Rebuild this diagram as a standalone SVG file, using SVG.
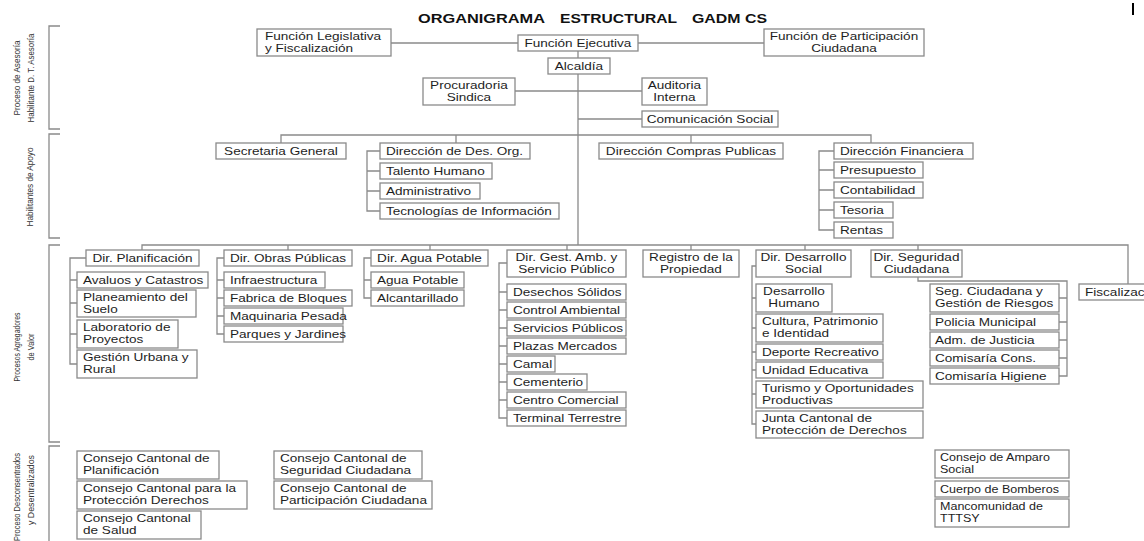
<svg xmlns="http://www.w3.org/2000/svg" width="1144" height="541" viewBox="0 0 1144 541">
<style>
.b{fill:#fff;stroke:#8a8a8a;stroke-width:1.3}
.t{font-family:"Liberation Sans",Arial,sans-serif;font-size:11.6px;fill:#1e1e1e}
.c{text-anchor:middle;transform-box:fill-box;transform-origin:center;transform:scaleX(1.17)}
.l{transform-box:fill-box;transform-origin:left center;transform:scaleX(1.17)}
.l2{transform-box:fill-box;transform-origin:left center;transform:scaleX(1.08)}
.ttl{font-family:"Liberation Sans",Arial,sans-serif;font-size:13px;font-weight:bold;fill:#111}
.lab{font-family:"Liberation Sans Narrow","Liberation Sans",Arial,sans-serif;font-size:9.5px;fill:#333;text-anchor:middle}
.cn{fill:none;stroke:#8a8a8a;stroke-width:1.3}
.br{fill:none;stroke:#8a8a8a;stroke-width:1.3}
</style>
<rect width="1144" height="541" fill="#fff"/>
<g id="title">
<text class="ttl" x="418" y="22.5" textLength="127" lengthAdjust="spacingAndGlyphs">ORGANIGRAMA</text>
<text class="ttl" x="560" y="22.5" textLength="117" lengthAdjust="spacingAndGlyphs">ESTRUCTURAL</text>
<text class="ttl" x="692" y="22.5" textLength="75" lengthAdjust="spacingAndGlyphs">GADM CS</text>
<rect x="1132" y="3" width="2" height="12" fill="#000"/>
</g>
<g id="sections">
<path class="br" d="M60,26 H49 V129 H60"/>
<path class="br" d="M60,134 H49 V238 H60"/>
<path class="br" d="M60,245 H49 V442 H60"/>
<path class="br" d="M60,446 H49 V545"/>
<text class="lab" transform="translate(20,78) rotate(-90)" textLength="75" lengthAdjust="spacingAndGlyphs">Proceso de Asesoría</text>
<text class="lab" transform="translate(34,78) rotate(-90)" textLength="89" lengthAdjust="spacingAndGlyphs">Habilitante D. T. Asesoría</text>
<text class="lab" transform="translate(33,187) rotate(-90)" textLength="79" lengthAdjust="spacingAndGlyphs">Habilitantes de Apoyo</text>
<text class="lab" transform="translate(20,347) rotate(-90)" textLength="69" lengthAdjust="spacingAndGlyphs">Procesos Agregadores</text>
<text class="lab" transform="translate(34,347) rotate(-90)" textLength="27" lengthAdjust="spacingAndGlyphs">de Valor</text>
<text class="lab" transform="translate(20,497) rotate(-90)" textLength="88" lengthAdjust="spacingAndGlyphs">Proceso Desconsentrados</text>
<text class="lab" transform="translate(34,490) rotate(-90)" textLength="70" lengthAdjust="spacingAndGlyphs">y Desentralizados</text>
</g>
<g id="connectors">
<path class="cn" d="M391,43 H518 M638,43 H764 M578,51 V58 M578,74 V245 M515,91 H642 M578,119 H642"/>
<path class="cn" d="M281,143 V135 H871 V143 M456,135 V143 M691,135 V143"/>
<path class="cn" d="M380,151 H367 V211 H380 M367,171 H380 M367,191 H380"/>
<path class="cn" d="M834,151 H819 V230 H834 M819,170 H834 M819,190 H834 M819,210 H834"/>
<path class="cn" d="M142,250 V245 H1128 V284 M288,245 V250 M430,245 V250 M567,245 V250 M691,245 V250 M805,245 V250 M918,245 V250"/>
<path class="cn" d="M86,258 H70 V364 H77 M70,280 H77 M70,303 H77 M70,334 H77"/>
<path class="cn" d="M224,258 H217 V334 H224 M217,280 H224 M217,298 H224 M217,316 H224"/>
<path class="cn" d="M371,258 H364 V298 H371 M364,280 H371"/>
<path class="cn" d="M507,263 H499 V418 H507 M499,292 H507 M499,310 H507 M499,328 H507 M499,346 H507 M499,364 H507 M499,382 H507 M499,400 H507"/>
<path class="cn" d="M756,266 H752 V424 H756 M752,298 H756 M752,328 H756 M752,352 H756 M752,370 H756 M752,394 H756"/>
<path class="cn" d="M918,277 V281 H1067 V376 H1059 M1059,298 H1067 M1059,322 H1067 M1059,340 H1067 M1059,358 H1067"/>
</g>
<g id="n-legislativa"><rect class="b" x="257" y="29" width="134" height="27"/><text class="t l" x="265" y="40.5">Función Legislativa<tspan x="265" y="52.5">y Fiscalización</tspan></text></g>
<g id="n-ejecutiva"><rect class="b" x="518" y="35" width="120" height="16"/><text class="t c" x="578" y="47">Función Ejecutiva</text></g>
<g id="n-participacion"><rect class="b" x="764" y="29" width="160" height="27"/><text class="t c" x="844" y="40.5">Función de Participación<tspan x="844" y="52.5">Ciudadana</tspan></text></g>
<g id="n-alcaldia"><rect class="b" x="548" y="58" width="62" height="16"/><text class="t c" x="579" y="70">Alcaldía</text></g>
<g id="n-procuradoria"><rect class="b" x="423" y="78" width="92" height="27"/><text class="t c" x="469" y="89.5">Procuradoria<tspan x="469" y="101.5">Sindica</tspan></text></g>
<g id="n-auditoria"><rect class="b" x="642" y="78" width="65" height="27"/><text class="t c" x="674.5" y="89.5">Auditoria<tspan x="674.5" y="101.5">Interna</tspan></text></g>
<g id="n-comunicacion"><rect class="b" x="642" y="111" width="136" height="16"/><text class="t c" x="710" y="123">Comunicación Social</text></g>
<g id="n-secretaria"><rect class="b" x="216" y="143" width="130" height="16"/><text class="t c" x="281" y="155">Secretaria General</text></g>
<g id="n-desorg"><rect class="b" x="380" y="143" width="150" height="16"/><text class="t l" x="386" y="155">Dirección de Des. Org.</text></g>
<g id="n-talento"><rect class="b" x="380" y="163" width="112" height="16"/><text class="t l" x="386" y="175">Talento Humano</text></g>
<g id="n-administrativo"><rect class="b" x="380" y="183" width="100" height="16"/><text class="t l" x="386" y="195">Administrativo</text></g>
<g id="n-tecnologias"><rect class="b" x="380" y="203" width="179" height="16"/><text class="t l" x="386" y="215">Tecnologías de Información</text></g>
<g id="n-compras"><rect class="b" x="599" y="143" width="184" height="16"/><text class="t c" x="691" y="155">Dirección Compras Publicas</text></g>
<g id="n-financiera"><rect class="b" x="834" y="143" width="139" height="16"/><text class="t l" x="840" y="155">Dirección Financiera</text></g>
<g id="n-presupuesto"><rect class="b" x="834" y="162" width="89" height="16"/><text class="t l" x="840" y="174">Presupuesto</text></g>
<g id="n-contabilidad"><rect class="b" x="834" y="182" width="89" height="16"/><text class="t l" x="840" y="194">Contabilidad</text></g>
<g id="n-tesoria"><rect class="b" x="834" y="202" width="59" height="16"/><text class="t l" x="840" y="214">Tesoria</text></g>
<g id="n-rentas"><rect class="b" x="834" y="222" width="59" height="16"/><text class="t l" x="840" y="234">Rentas</text></g>
<g id="n-planificacion"><rect class="b" x="86" y="250" width="113" height="16"/><text class="t c" x="142.5" y="262">Dir. Planificación</text></g>
<g id="n-avaluos"><rect class="b" x="77" y="272" width="131" height="16"/><text class="t l" x="83" y="284">Avaluos y Catastros</text></g>
<g id="n-planeamiento"><rect class="b" x="77" y="290" width="119" height="27"/><text class="t l" x="83" y="301.5">Planeamiento del<tspan x="83" y="313.5">Suelo</tspan></text></g>
<g id="n-laboratorio"><rect class="b" x="77" y="320" width="101" height="28"/><text class="t l" x="83" y="331.5">Laboratorio de<tspan x="83" y="343.5">Proyectos</tspan></text></g>
<g id="n-gestionurbana"><rect class="b" x="77" y="350" width="120" height="28"/><text class="t l" x="83" y="361.5">Gestión Urbana y<tspan x="83" y="373.5">Rural</tspan></text></g>
<g id="n-obras"><rect class="b" x="224" y="250" width="128" height="16"/><text class="t c" x="288" y="262">Dir. Obras Públicas</text></g>
<g id="n-infraestructura"><rect class="b" x="224" y="272" width="101" height="16"/><text class="t l" x="230" y="284">Infraestructura</text></g>
<g id="n-fabrica"><rect class="b" x="224" y="290" width="128" height="16"/><text class="t l" x="230" y="302">Fabrica de Bloques</text></g>
<g id="n-maquinaria"><rect class="b" x="224" y="308" width="119" height="16"/><text class="t l" x="230" y="320">Maquinaria Pesada</text></g>
<g id="n-parques"><rect class="b" x="224" y="326" width="119" height="16"/><text class="t l" x="230" y="338">Parques y Jardines</text></g>
<g id="n-diragua"><rect class="b" x="371" y="250" width="117" height="16"/><text class="t c" x="429.5" y="262">Dir. Agua Potable</text></g>
<g id="n-aguapotable"><rect class="b" x="371" y="272" width="93" height="16"/><text class="t l" x="377" y="284">Agua Potable</text></g>
<g id="n-alcantarillado"><rect class="b" x="371" y="290" width="93" height="16"/><text class="t l" x="377" y="302">Alcantarillado</text></g>
<g id="n-gestamb"><rect class="b" x="507" y="250" width="119" height="27"/><text class="t c" x="566.5" y="261.5">Dir. Gest. Amb. y<tspan x="566.5" y="273.5">Servicio Público</tspan></text></g>
<g id="n-desechos"><rect class="b" x="507" y="284" width="119" height="16"/><text class="t l" x="513" y="296">Desechos Sólidos</text></g>
<g id="n-control"><rect class="b" x="507" y="302" width="119" height="16"/><text class="t l" x="513" y="314">Control Ambiental</text></g>
<g id="n-servicios"><rect class="b" x="507" y="320" width="119" height="16"/><text class="t l" x="513" y="332">Servicios Públicos</text></g>
<g id="n-plazas"><rect class="b" x="507" y="338" width="119" height="16"/><text class="t l" x="513" y="350">Plazas Mercados</text></g>
<g id="n-camal"><rect class="b" x="507" y="356" width="48" height="16"/><text class="t l" x="513" y="368">Camal</text></g>
<g id="n-cementerio"><rect class="b" x="507" y="374" width="80" height="16"/><text class="t l" x="513" y="386">Cementerio</text></g>
<g id="n-centro"><rect class="b" x="507" y="392" width="119" height="16"/><text class="t l" x="513" y="404">Centro Comercial</text></g>
<g id="n-terminal"><rect class="b" x="507" y="410" width="119" height="16"/><text class="t l" x="513" y="422">Terminal Terrestre</text></g>
<g id="n-registro"><rect class="b" x="643" y="250" width="96" height="27"/><text class="t c" x="691" y="261.5">Registro de la<tspan x="691" y="273.5">Propiedad</tspan></text></g>
<g id="n-desarrollo"><rect class="b" x="756" y="250" width="95" height="27"/><text class="t c" x="803.5" y="261.5">Dir. Desarrollo<tspan x="803.5" y="273.5">Social</tspan></text></g>
<g id="n-deshumano"><rect class="b" x="756" y="284" width="76" height="28"/><text class="t c" x="794" y="295.5">Desarrollo<tspan x="794" y="307.5">Humano</tspan></text></g>
<g id="n-cultura"><rect class="b" x="756" y="314" width="127" height="28"/><text class="t l" x="762" y="325.5">Cultura, Patrimonio<tspan x="762" y="337.5">e Identidad</tspan></text></g>
<g id="n-deporte"><rect class="b" x="756" y="344" width="127" height="16"/><text class="t l" x="762" y="356">Deporte Recreativo</text></g>
<g id="n-unidad"><rect class="b" x="756" y="362" width="127" height="16"/><text class="t l" x="762" y="374">Unidad Educativa</text></g>
<g id="n-turismo"><rect class="b" x="756" y="381" width="167" height="27"/><text class="t l" x="762" y="392.5">Turismo y Oportunidades<tspan x="762" y="404.5">Productivas</tspan></text></g>
<g id="n-junta"><rect class="b" x="756" y="411" width="167" height="27"/><text class="t l" x="762" y="422.5">Junta Cantonal de<tspan x="762" y="434.5">Protección de Derechos</tspan></text></g>
<g id="n-seguridad"><rect class="b" x="871" y="250" width="91" height="27"/><text class="t c" x="916.5" y="261.5">Dir. Seguridad<tspan x="916.5" y="273.5">Ciudadana</tspan></text></g>
<g id="n-segciudadana"><rect class="b" x="930" y="284" width="129" height="28"/><text class="t l" x="935" y="295.5">Seg. Ciudadana y<tspan x="935" y="307.5">Gestión de Riesgos</tspan></text></g>
<g id="n-policia"><rect class="b" x="930" y="314" width="129" height="16"/><text class="t l" x="935" y="326">Policia Municipal</text></g>
<g id="n-justicia"><rect class="b" x="930" y="332" width="129" height="16"/><text class="t l" x="935" y="344">Adm. de Justicia</text></g>
<g id="n-comcons"><rect class="b" x="930" y="350" width="129" height="16"/><text class="t l" x="935" y="362">Comisaría Cons.</text></g>
<g id="n-comhig"><rect class="b" x="930" y="368" width="129" height="16"/><text class="t l" x="935" y="380">Comisaría Higiene</text></g>
<g id="n-fiscalizacion"><rect class="b" x="1079" y="284" width="90" height="16"/><text class="t l" x="1085" y="296">Fiscalización</text></g>
<g id="n-ccplan"><rect class="b" x="77" y="451" width="142" height="28"/><text class="t l" x="83" y="462.5">Consejo Cantonal de<tspan x="83" y="474.5">Planificación</tspan></text></g>
<g id="n-ccprot"><rect class="b" x="77" y="481" width="170" height="28"/><text class="t l" x="83" y="492.5">Consejo Cantonal para la<tspan x="83" y="504.5">Protección Derechos</tspan></text></g>
<g id="n-ccsalud"><rect class="b" x="77" y="511" width="124" height="28"/><text class="t l" x="83" y="522.5">Consejo Cantonal<tspan x="83" y="534.5">de Salud</tspan></text></g>
<g id="n-ccseg"><rect class="b" x="274" y="451" width="148" height="28"/><text class="t l" x="280" y="462.5">Consejo Cantonal de<tspan x="280" y="474.5">Seguridad Ciudadana</tspan></text></g>
<g id="n-ccpart"><rect class="b" x="274" y="481" width="158" height="28"/><text class="t l" x="280" y="492.5">Consejo Cantonal de<tspan x="280" y="504.5">Participación Ciudadana</tspan></text></g>
<g id="n-amparo"><rect class="b" x="935" y="450" width="134" height="28"/><text class="t l2" x="940" y="461.5">Consejo de Amparo<tspan x="940" y="473.5">Social</tspan></text></g>
<g id="n-bomberos"><rect class="b" x="935" y="481" width="134" height="16"/><text class="t l2" x="940" y="493">Cuerpo de Bomberos</text></g>
<g id="n-mancomunidad"><rect class="b" x="935" y="499" width="134" height="28"/><text class="t l2" x="940" y="510.5">Mancomunidad de<tspan x="940" y="522.5">TTTSY</tspan></text></g>
</svg>
